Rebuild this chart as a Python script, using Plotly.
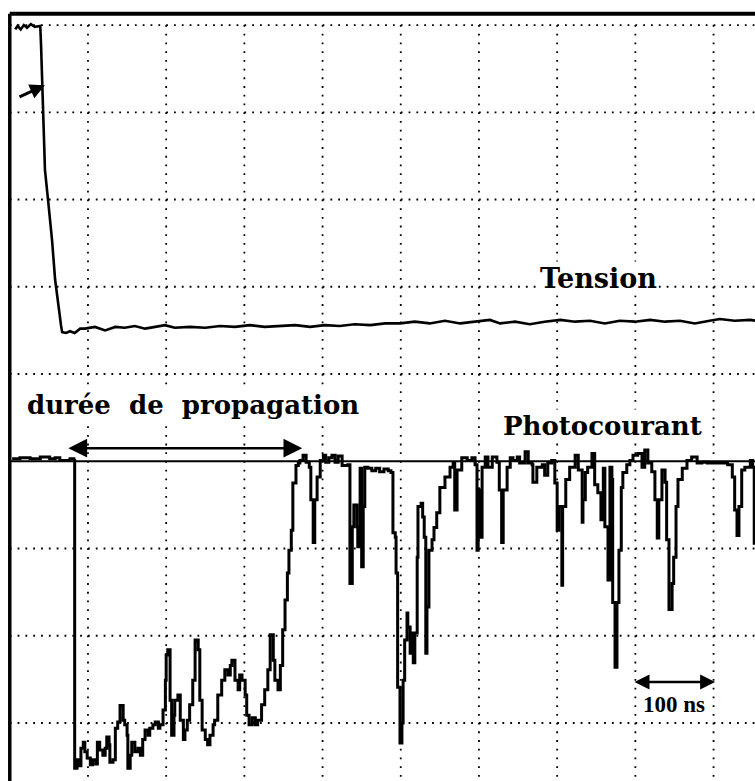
import plotly.graph_objects as go

# Oscilloscope capture: time in ns (100 ns / div), amplitudes in screen divisions.
# Channel 1: "Tension" (absolute position on screen, divisions above bottom line)
tension_t = [7, 10, 14, 18, 22, 27, 32, 39,
             40, 42.5, 45, 49, 54, 58, 62, 65.5, 67,
             72, 77, 83, 90,
             96, 109, 122, 135, 147, 160, 173, 186, 198.5, 211,
             230, 250, 269, 288, 307, 326, 345.5, 365, 384, 403,
             422, 441, 461, 480, 499, 518, 537, 556.5, 576, 595,
             614, 627, 646, 665, 684, 704, 723, 742, 761, 780,
             799.5, 819, 838, 857, 876, 895, 908, 927, 947, 954]
tension_v = [7.95, 7.99, 7.95, 8.00, 7.97, 8.01, 7.98, 7.99,
             7.77, 7.14, 6.34, 5.99, 5.54, 5.08, 4.77, 4.56, 4.48,
             4.47, 4.49, 4.47, 4.52,
             4.52, 4.54, 4.50, 4.54, 4.53, 4.55, 4.52, 4.54, 4.56, 4.53,
             4.54, 4.53, 4.55, 4.54, 4.56, 4.54, 4.55, 4.56, 4.54, 4.56,
             4.55, 4.57, 4.56, 4.58, 4.58, 4.60, 4.58, 4.61, 4.58, 4.60,
             4.62, 4.58, 4.60, 4.57, 4.60, 4.62, 4.60, 4.61, 4.58, 4.61,
             4.60, 4.62, 4.60, 4.61, 4.58, 4.61, 4.63, 4.61, 4.62, 4.61]

# Channel 2: "Photocourant" (divisions relative to its own ground line)
photo_t = [3, 13, 26, 39, 51, 58, 64, 77, 82, 83,
           86, 88, 91, 94, 96, 99, 103, 106, 110, 112,
           115, 119, 122, 124, 127, 128, 132, 135, 138, 141,
           145, 147, 150, 151, 154, 156, 160, 164, 167, 170,
           173, 177, 179, 183, 186, 190, 192, 196, 199, 200,
           202, 205, 207, 210, 211, 215, 218, 222, 224, 227,
           230, 234, 237, 241, 243, 246, 250, 253, 256, 260,
           262, 266, 271, 275, 279, 282, 284, 288, 292, 294,
           297, 301, 303, 306, 310, 314, 317, 322, 326, 330,
           333, 337, 339, 343, 346, 349, 352, 355, 357, 360,
           362, 366, 369, 371, 375, 379, 383, 385, 388, 390,
           393, 397, 401, 404, 408, 412, 416, 420, 425, 430,
           432.5, 435, 438, 440, 444, 445, 448, 450, 452, 454,
           458, 463, 468, 473, 478.5, 484, 487.5, 490, 493, 494,
           496, 499, 501.5, 503, 505, 508, 509, 512, 514, 516,
           518, 521, 522, 526, 528, 530, 532, 533.5, 536, 540,
           542.5, 546, 550, 556.5, 563, 567, 569, 572, 578, 585,
           591, 595, 597.5, 599, 601, 604, 608, 611.5, 617, 623,
           626, 629, 631, 636, 640, 643.5, 649, 652, 659, 663,
           668, 669, 674, 681, 684, 688, 693, 697, 700, 702,
           706, 707, 711, 716, 723, 727, 732, 733, 736, 739,
           744.5, 748, 752, 756, 759, 761, 765, 767.5, 770, 771,
           774, 776.5, 779, 782, 784, 789, 793, 797, 803, 808.5,
           812, 816, 821, 825, 828, 830, 834, 838, 840, 843,
           847, 849, 852, 854.5, 860, 866, 872, 879, 885, 892,
           899, 908, 918, 924, 927, 930, 932.5, 936, 940, 947,
           950, 952, 954]
photo_i = [0.03, 0.04, 0.03, 0.05, 0.03, 0.04, 0.01, 0.03, 0.01, -3.52,
           -3.42, -3.49, -3.29, -3.22, -3.33, -3.40, -3.48, -3.42, -3.47, -3.22,
           -3.31, -3.37, -3.29, -3.16, -3.25, -3.45, -3.42, -3.06, -2.99, -2.80,
           -2.97, -3.02, -3.14, -3.52, -3.37, -3.22, -3.33, -3.29, -3.37, -3.19,
           -3.08, -3.14, -3.06, -3.02, -2.99, -3.06, -3.02, -2.85, -2.51, -2.22,
           -2.16, -2.74, -3.14, -2.91, -2.74, -2.68, -2.97, -3.19, -3.08, -2.97,
           -2.79, -2.51, -2.05, -2.16, -2.74, -3.08, -3.19, -3.25, -3.14, -3.02,
           -2.97, -2.68, -2.51, -2.39, -2.45, -2.34, -2.28, -2.51, -2.62, -2.45,
           -2.51, -2.68, -2.91, -3.02, -2.94, -3.02, -2.97, -2.79, -2.62, -2.39,
           -1.99, -2.28, -2.51, -2.62, -2.34, -1.93, -1.59, -1.28, -1.02, -0.79,
           -0.25, -0.05, -0.02, 0.01, 0.07, -0.01, -0.07, -0.44, -0.93, -0.44,
           -0.18, 0.01, 0.07, -0.01, 0.04, 0.07, -0.01, 0.06, -0.05, -0.05,
           -0.04, -1.40, -0.75, -0.50, -0.75, -0.98, -0.08, -1.21, -0.52, -0.07,
           -0.08, -0.11, -0.08, -0.12, -0.09, -0.11, -0.13, -0.82, -0.87, -1.28,
           -2.59, -3.23, -3.00, -2.51, -2.05, -1.74, -1.90, -2.20, -1.97, -2.31,
           -1.97, -1.10, -0.52, -0.48, -0.64, -0.87, -2.20, -1.67, -1.02, -0.90,
           -0.76, -0.59, -0.30, -0.18, -0.07, -0.02, -0.56, -0.10, 0.04, 0.01,
           0.04, -0.04, -1.02, -0.33, -0.87, -0.07, 0.05, -0.07, 0.05, -0.01,
           -0.33, -0.93, -0.33, -0.07, 0.04, 0.01, 0.05, -0.02, 0.11, -0.02,
           -0.04, -0.24, -0.07, -0.04, -0.16, -0.02, 0.01, -0.25, -0.79, -0.52,
           -1.42, -0.52, -0.21, -0.07, 0.07, -0.10, -0.70, -0.44, -0.13, -0.07,
           0.09, -0.27, -0.36, -0.67, -0.08, -0.75, -1.36, -0.07, -0.21, -1.62,
           -2.36, -1.62, -1.02, -0.30, -0.13, -0.04, 0.01, 0.07, 0.09, -0.07,
           0.13, -0.02, -0.12, -0.44, -0.88, -0.44, -0.10, -0.24, -0.90, -1.70,
           -1.40, -1.10, -0.52, -0.21, -0.08, 0.01, 0.05, -0.02, -0.01, -0.02,
           -0.02, -0.02, -0.04, -0.18, -0.56, -0.85, -0.52, -0.10, -0.07, 0.01,
           -0.07, -0.94, -0.10]

PHOTO_GROUND = 3          # ground position of channel 2 (div)
DIV_NS = 100              # time base
N_VDIV = 8                # vertical divisions on screen
N_HDIV = 10               # horizontal divisions on screen

X_RANGE = [-12.5, 953]
Y_RANGE = [-0.665, 8.287]
TOP_EDGE = 8.13

fig = go.Figure()

fig.add_trace(go.Scatter(x=tension_t, y=tension_v, mode="lines",
                         line=dict(color="black", width=2.6),
                         hoverinfo="skip"))
# digitised record: sample-and-hold steps
fig.add_trace(go.Scatter(x=photo_t, y=[PHOTO_GROUND + v for v in photo_i],
                         mode="lines", line=dict(color="black", width=3, shape="hv"),
                         hoverinfo="skip"))

shapes = []
# dotted graticule, 10 dots per division
for k in range(N_VDIV + 1):
    if k == PHOTO_GROUND:
        continue
    shapes.append(dict(type="line", xref="x", yref="y", x0=0, x1=N_HDIV * DIV_NS,
                       y0=k, y1=k, layer="below",
                       line=dict(color="black", width=1.8, dash="1.8px,6.02px")))
for k in range(1, N_HDIV):
    shapes.append(dict(type="line", xref="x", yref="y", x0=k * DIV_NS, x1=k * DIV_NS,
                       y0=N_VDIV, y1=Y_RANGE[0], layer="below",
                       line=dict(color="black", width=1.8, dash="1.8px,6.92px")))
# channel 2 ground line
shapes.append(dict(type="line", xref="x", yref="y", x0=0, x1=N_HDIV * DIV_NS,
                   y0=PHOTO_GROUND, y1=PHOTO_GROUND, layer="below",
                   line=dict(color="black", width=2)))
# screen frame (left and top edges)
shapes.append(dict(type="line", xref="x", yref="y", x0=0, x1=0,
                   y0=Y_RANGE[0], y1=TOP_EDGE, line=dict(color="black", width=3.5)))
shapes.append(dict(type="line", xref="x", yref="y", x0=0, x1=N_HDIV * DIV_NS,
                   y0=TOP_EDGE, y1=TOP_EDGE, line=dict(color="black", width=4)))

serif_bold = dict(family="DejaVu Serif", size=26, color="black", weight="bold")

annotations = [
    dict(x=753, y=5.09, xref="x", yref="y", text="Tension", showarrow=False,
         font=dict(serif_bold, size=27), bgcolor="white", borderpad=1),
    dict(x=758, y=3.40, xref="x", yref="y", text="Photocourant", showarrow=False,
         font=serif_bold, bgcolor="white", borderpad=1),
    dict(x=234, y=3.64, xref="x", yref="y",
         text="durée\u00a0 de\u00a0 propagation", showarrow=False,
         font=serif_bold, bgcolor="white", borderpad=1),
    dict(x=849, y=0.21, xref="x", yref="y", text="100 ns", showarrow=False,
         font=dict(family="Liberation Serif", size=23, color="black", weight="bold"),
         bgcolor="white", borderpad=0),
    # propagation time marker
    dict(x=374, y=3.15, ax=73, ay=3.15, xref="x", yref="y", axref="x", ayref="y",
         text="", showarrow=True, arrowhead=2, arrowsize=1.5, arrowwidth=2.5,
         arrowside="end+start", startarrowhead=2, startarrowsize=1.5,
         arrowcolor="black"),
    # time scale marker
    dict(x=902, y=0.47, ax=797, ay=0.47, xref="x", yref="y", axref="x", ayref="y",
         text="", showarrow=True, arrowhead=2, arrowsize=1.2, arrowwidth=2.5,
         arrowside="end+start", startarrowhead=2, startarrowsize=1.2,
         arrowcolor="black"),
    # channel 1 marker
    dict(x=45, y=7.31, ax=10.5, ay=7.17, xref="x", yref="y", axref="x", ayref="y",
         text="", showarrow=True, arrowhead=2, arrowsize=1.0, arrowwidth=3,
         arrowcolor="black"),
]

fig.update_layout(
    width=755, height=781,
    margin=dict(l=0, r=0, t=0, b=0),
    paper_bgcolor="white", plot_bgcolor="white",
    showlegend=False,
    xaxis=dict(range=X_RANGE, visible=False, fixedrange=True),
    yaxis=dict(range=Y_RANGE, visible=False, fixedrange=True),
    shapes=shapes,
    annotations=annotations,
)

fig.write_html("out.html")
